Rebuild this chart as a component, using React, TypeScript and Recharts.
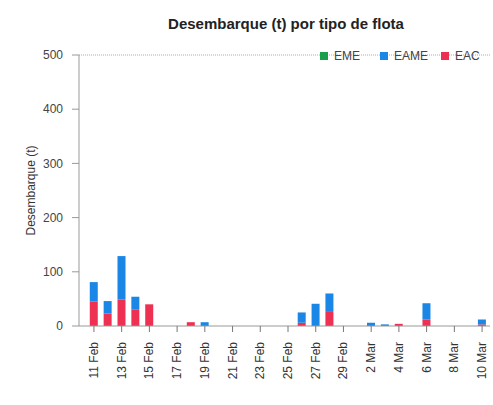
import React from "react";
import { BarChart, Bar, XAxis, YAxis, ReferenceLine, Legend } from "recharts";

const dates = [
  "11 Feb", "12 Feb", "13 Feb", "14 Feb", "15 Feb", "16 Feb", "17 Feb", "18 Feb", "19 Feb", "20 Feb",
  "21 Feb", "22 Feb", "23 Feb", "24 Feb", "25 Feb", "26 Feb", "27 Feb", "28 Feb", "29 Feb",
  "1 Mar", "2 Mar", "3 Mar", "4 Mar", "5 Mar", "6 Mar", "7 Mar", "8 Mar", "9 Mar", "10 Mar",
];
const eac = [45, 23, 49, 30, 40, 0, 0, 7, 0, 0, 0, 0, 0, 0, 0, 6, 0, 26, 0, 0, 0, 0, 4, 0, 12, 0, 0, 0, 3];
const eame = [36, 23, 80, 24, 0, 0, 0, 0, 7, 0, 0, 0, 0, 0, 0, 19, 41, 34, 0, 0, 6, 3, 0, 0, 30, 0, 0, 0, 9];
const eme = [0, 0, 0, 0, 0, 0, 0, 0, 0, 0, 0, 0, 0, 0, 0, 0, 0, 0, 0, 0, 0, 0, 0, 0, 0, 0, 0, 0, 0];
const yTicks = [0, 100, 200, 300, 400, 500];

const series = [
  { key: "EME", color: "#17a04a" },
  { key: "EAME", color: "#1a86e6" },
  { key: "EAC", color: "#ee3052" },
];

const data = dates.map((d, i) => ({ date: d, EAC: eac[i], EAME: eame[i], EME: eme[i] }));

const FONT = "'Liberation Sans', Arial, sans-serif";

const XTick = (props: any) => {
  const { x, y, payload } = props;
  return (
    <text
      x={x}
      y={y}
      transform={`rotate(-90, ${x}, ${y})`}
      textAnchor="end"
      dominantBaseline="central"
      fontSize={12}
      fill="#333"
      fontFamily={FONT}
      dx={-8}
    >
      {payload.value}
    </text>
  );
};

const legendPos = [320, 380, 441];

const LegendContent = () => (
  <div style={{ position: "relative", height: 16 }}>
    {series.map((s, i) => (
      <div
        key={s.key}
        style={{
          position: "absolute",
          left: legendPos[i],
          top: 0,
          display: "flex",
          alignItems: "center",
          fontFamily: FONT,
          fontSize: 12,
          color: "#444",
        }}
      >
        <span style={{ display: "inline-block", width: 8, height: 8, background: s.color, marginRight: 6 }} />
        {s.key}
      </div>
    ))}
  </div>
);

export default function App() {
  return (
    <div style={{ position: "absolute", left: 0, top: 0, width: 493, height: 405, background: "#fff" }}>
      <div
        style={{
          position: "absolute",
          left: 79,
          width: 414,
          top: 15,
          textAlign: "center",
          fontFamily: FONT,
          fontWeight: "bold",
          fontSize: 15,
          color: "#222",
        }}
      >
        Desembarque (t) por tipo de flota
      </div>
      <BarChart
        width={493}
        height={405}
        data={data}
        margin={{ top: 39, right: 3, bottom: 0, left: 0 }}
        barCategoryGap="20%"
      >
        <XAxis
          dataKey="date"
          interval={1}
          height={79}
          padding={{ left: 8, right: 1 }}
          stroke="#999"
          tickLine={{ stroke: "#777" }}
          tickSize={6}
          tick={<XTick />}
        />
        <YAxis
          domain={[0, 500]}
          ticks={yTicks}
          width={79}
          stroke="#999"
          tickSize={7}
          tickMargin={9}
          tick={{ fontSize: 12, fill: "#444", fontFamily: FONT }}
          label={{
            value: "Desembarque (t)",
            angle: -90,
            position: "insideLeft",
            offset: 31,
            style: { textAnchor: "middle", fontSize: 12, fill: "#333", fontFamily: FONT },
          }}
        />
        <ReferenceLine y={500} stroke="#aaa" strokeDasharray="1 1" />
        <Legend
          verticalAlign="top"
          content={<LegendContent />}
          wrapperStyle={{ top: 49, left: 0, width: 493 }}
        />
        <Bar dataKey="EAC" stackId="a" fill="#ee3052" isAnimationActive={false} />
        <Bar dataKey="EAME" stackId="a" fill="#1a86e6" isAnimationActive={false} />
        <Bar dataKey="EME" stackId="a" fill="#17a04a" isAnimationActive={false} />
      </BarChart>
    </div>
  );
}
